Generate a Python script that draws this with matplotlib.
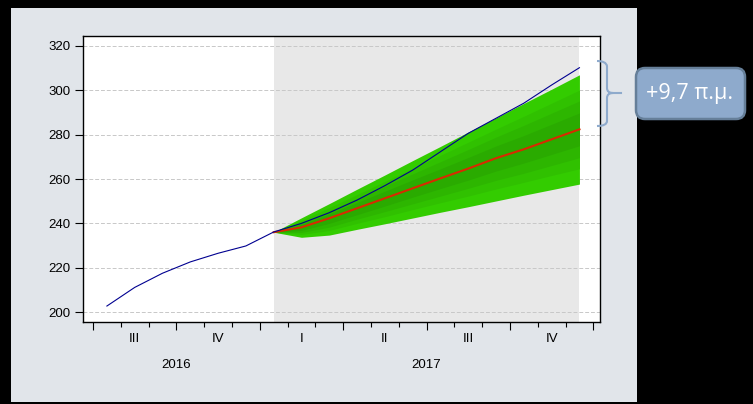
import numpy as np
import matplotlib
matplotlib.use('Agg')
import matplotlib.pyplot as plt
from matplotlib.patches import Rectangle, FancyBboxPatch, PathPatch
from matplotlib.path import Path

# Monthly observations, Jul 2016 - Dec 2017
months = ['2016-07', '2016-08', '2016-09', '2016-10', '2016-11', '2016-12',
          '2017-01', '2017-02', '2017-03', '2017-04', '2017-05', '2017-06',
          '2017-07', '2017-08', '2017-09', '2017-10', '2017-11', '2017-12']
actual = [202.7, 211.1, 217.5, 222.6, 226.5, 229.8,
          236.1, 240.0, 244.8, 250.5, 257.0, 264.0,
          272.3, 280.6, 287.4, 294.2, 302.4, 310.2]

# Forecast, Jan 2017 - Dec 2017
forecast = [236.0, 238.2, 242.3, 246.8, 251.3, 255.8, 260.3, 264.7, 269.4, 273.4, 277.9, 282.4]

# fan chart bands (outer -> inner)
band1_hi = [236.0, 242.5, 248.9, 255.4, 261.8, 268.3, 274.7, 281.2, 287.6, 294.1, 300.5, 307.0]
band1_lo = [236.0, 233.7, 234.7, 237.3, 239.8, 242.4, 245.0, 247.5, 250.1, 252.7, 255.2, 257.7]
band2_hi = [236.0, 241.3, 247.1, 253.0, 258.9, 264.8, 270.7, 276.6, 282.5, 288.3, 294.2, 300.1]
band2_lo = [236.0, 235.0, 236.8, 240.0, 243.0, 246.2, 249.3, 252.3, 255.5, 258.5, 261.6, 264.6]
band3_hi = [236.0, 240.4, 245.7, 251.3, 256.8, 262.3, 267.8, 273.3, 278.9, 284.2, 289.7, 295.2]
band3_lo = [236.0, 235.9, 238.3, 241.9, 245.3, 248.8, 252.3, 255.8, 259.4, 262.6, 266.1, 269.6]
band4_hi = [236.0, 239.5, 244.3, 249.4, 254.5, 259.6, 264.6, 269.7, 274.9, 279.6, 284.7, 289.8]
band4_lo = [236.0, 236.8, 240.0, 243.9, 247.8, 251.8, 255.7, 259.5, 263.6, 267.2, 271.1, 275.0]

quarter_labels = ['III', 'IV', 'I', 'II', 'III', 'IV']
year_labels = ['2016', '2017']
yticks = [200, 220, 240, 260, 280, 300, 320]

W, H = 753, 404
fig = plt.figure(figsize=(W / 100, H / 100), dpi=100)
fig.patch.set_facecolor('black')
plt.rcParams['font.family'] = ['Liberation Sans', 'DejaVu Sans']


def fx(px):
    return px / W


def fy(py):
    return 1 - py / H


# light panel behind the chart
fig.patches.append(Rectangle((fx(11), fy(402)), fx(637) - fx(11), fy(8) - fy(402),
                             transform=fig.transFigure, facecolor='#e1e5ea',
                             edgecolor='none', zorder=-5))

ax = fig.add_axes([fx(83), fy(322), fx(600) - fx(83), fy(36) - fy(322)])
ax.set_zorder(2)
ax.set_facecolor('white')

x_all = np.arange(len(months)) + 0.5
n_fc = len(forecast)
x_fc = x_all[-n_fc:]

ax.axvspan(x_fc[0], x_fc[-1], color='#e8e8e8', zorder=0, lw=0)

for yv in yticks:
    ax.axhline(yv, color='#c8c8c8', lw=0.7, ls=(0, (4, 2)), zorder=1)

bands = [(band1_lo, band1_hi, '#33cc00'),
         (band2_lo, band2_hi, '#30c100'),
         (band3_lo, band3_hi, '#2db600'),
         (band4_lo, band4_hi, '#2aab00')]
for lo, hi, c in bands:
    ax.fill_between(x_fc, lo, hi, color=c, lw=0, zorder=2)

ax.plot(x_fc, forecast, color='#d82a00', lw=1.5, zorder=3)
ax.plot(x_all, actual, color='#000090', lw=0.8, zorder=4)

ax.set_xlim(-0.36, 18.24)
ax.set_ylim(195.5, 324.5)
ax.set_yticks(yticks)
ax.tick_params(axis='y', direction='out', length=6, width=0.8, labelsize=9.5, pad=3)

ax.set_xticks(np.arange(0, 19, 3))
ax.set_xticks(np.arange(0, 19), minor=True)
ax.set_xticklabels([])
ax.tick_params(axis='x', which='major', direction='out', length=6, width=0.8)
ax.tick_params(axis='x', which='minor', direction='out', length=3.5, width=0.8)

for sp in ax.spines.values():
    sp.set_linewidth(1.0)
    sp.set_color('black')

for i, lab in enumerate(quarter_labels):
    ax.text(1.5 + 3 * i, -0.059, lab, transform=ax.get_xaxis_transform(),
            ha='center', va='center', fontsize=9.5)
ax.text(3, -0.150, year_labels[0], transform=ax.get_xaxis_transform(),
        ha='center', va='center', fontsize=9.5)
ax.text(12, -0.150, year_labels[1], transform=ax.get_xaxis_transform(),
        ha='center', va='center', fontsize=9.5)

# curly brace to the right of the plot
pts = [(597, 61), (606, 61), (607, 66), (607, 88), (607, 93), (613, 93),
       (607, 93), (607, 98), (607, 121), (607, 126), (597, 126)]
codes = [Path.MOVETO, Path.CURVE3, Path.CURVE3, Path.LINETO, Path.CURVE3, Path.CURVE3,
         Path.CURVE3, Path.CURVE3, Path.LINETO, Path.CURVE3, Path.CURVE3]
brace = Path([(fx(a), fy(b)) for a, b in pts], codes)
fig.patches.append(PathPatch(brace, transform=fig.transFigure, facecolor='none',
                             edgecolor='#8eaacc', lw=1.5, zorder=5))
fig.lines.append(plt.Line2D([fx(612), fx(621)], [fy(93), fy(93)], transform=fig.transFigure,
                            color='#8eaacc', lw=1.5, zorder=5))

# annotation box
box = FancyBboxPatch((fx(636), fy(119)), fx(745) - fx(636), fy(68) - fy(119),
                     boxstyle='round,pad=0,rounding_size=0.012',
                     transform=fig.transFigure, facecolor='#8eaacc',
                     edgecolor='#667f99', lw=1.8, mutation_aspect=W / H, zorder=5)
fig.patches.append(box)
fig.text(fx(690), fy(94), '+9,7 π.μ.', color='white', fontsize=15.5,
         ha='center', va='center', family=['Open Sans', 'DejaVu Sans'], zorder=6)

fig.savefig('out.png', dpi=100, facecolor=fig.get_facecolor())
